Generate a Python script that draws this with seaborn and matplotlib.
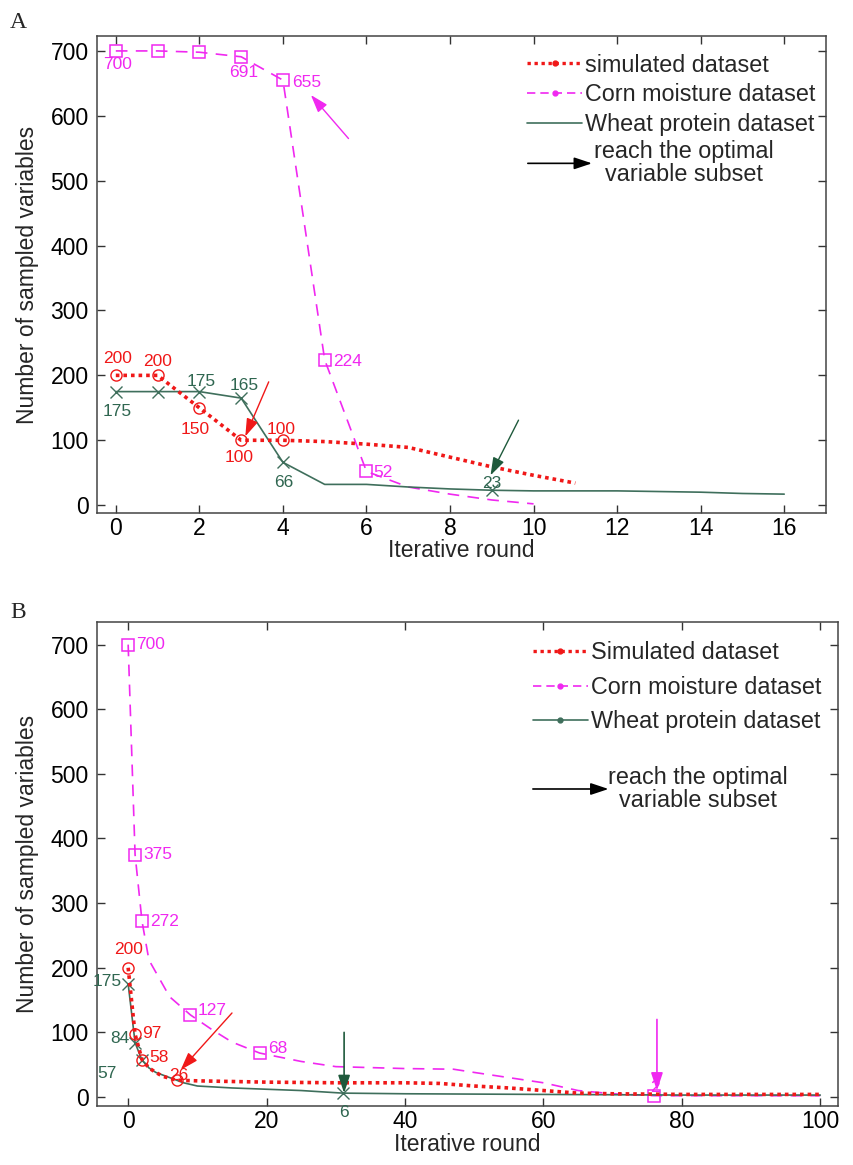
"""Number of sampled variables per iterative round, two panels (A, B)."""

import matplotlib.pyplot as plt
import seaborn as sns
from matplotlib.lines import Line2D

# ---- panel A data ----
a_sim_round = list(range(12))
a_sim = [200, 200, 150, 100, 100, 98, 94, 89, 74, 59, 46, 34]
a_corn_round = list(range(11))
a_corn = [700, 700, 698, 691, 655, 224, 52, 28, 17, 8, 2]
a_wheat_round = list(range(17))
a_wheat = [175, 175, 175, 165, 66, 32, 32, 28, 25, 23, 22, 22, 22, 21, 20, 18, 17]
a_sim_marked = [0, 1, 2, 3, 4]
a_corn_marked = [0, 1, 2, 3, 4, 5, 6]
a_wheat_marked = [0, 1, 2, 3, 4, 9]

# ---- panel B data ----
b_sim_round = [0, 1, 2, 3, 4, 5, 7, 10, 15, 20, 30, 40, 45, 50, 55, 60, 65, 70, 80, 90, 100]
b_sim = [200, 97, 58, 45, 38, 32, 26, 25, 24, 23, 22, 22, 21, 17, 14, 10, 6, 5, 4, 4, 4]
b_corn_round = [0, 1, 2, 3, 6, 9, 12, 15, 19, 25, 30, 40, 47, 50, 55, 60, 65, 70, 76, 85, 100]
b_corn = [700, 375, 272, 212, 155, 127, 105, 85, 68, 55, 47, 44, 43, 38, 30, 22, 10, 5, 2, 2, 2]
b_wheat_round = [0, 1, 2, 3, 4, 6, 8, 10, 15, 20, 25, 31, 40, 60, 80, 100]
b_wheat = [175, 84, 57, 45, 38, 30, 22, 17, 14, 12, 10, 6, 5, 4, 3, 3]
b_sim_marked = [0, 1, 2, 6]
b_corn_marked = [0, 1, 2, 5, 8, 18]
b_wheat_marked = [0, 1, 2, 11]

legend_a = ['simulated dataset', 'Corn moisture dataset', 'Wheat protein dataset']
legend_b = ['Simulated dataset', 'Corn moisture dataset', 'Wheat protein dataset']
arrow_text = 'reach the optimal\nvariable subset'

RED = '#f01818'
MAGENTA = '#f028f0'
GREEN = '#3f6f5c'
GREEN_TXT = '#2f6650'
GREEN_ARROW = '#1f5a3c'
LEG_FS = 16.8

sns.set_theme(style='ticks')
plt.rcParams['font.family'] = ['Liberation Sans', 'DejaVu Sans']

fig = plt.figure(figsize=(8.54, 11.65), dpi=100)
ax_a = fig.add_axes([0.1136, 0.5597, 0.8536, 0.4094])
ax_b = fig.add_axes([0.1136, 0.0506, 0.868, 0.4155])


def draw_lines(ax, sim, corn, wheat):
    (sr, sv, sm), (cr, cv, cm), (wr, wv, wm) = sim, corn, wheat
    sns.lineplot(x=cr, y=cv, ax=ax, color=MAGENTA, linestyle=(0, (7, 5)),
                 linewidth=1.2, marker='s', markevery=cm, ms=8.5,
                 markerfacecolor='none', markeredgecolor=MAGENTA,
                 markeredgewidth=1.1, errorbar=None, sort=False)
    sns.lineplot(x=wr, y=wv, ax=ax, color=GREEN, linewidth=1.2,
                 marker='x', markevery=wm, ms=9,
                 markeredgecolor=GREEN, markeredgewidth=1.0,
                 errorbar=None, sort=False)
    sns.lineplot(x=sr, y=sv, ax=ax, color=RED, linestyle=(0, (1, 1.1)),
                 linewidth=2.6, marker='o', markevery=sm, ms=8,
                 markerfacecolor='none', markeredgecolor=RED,
                 markeredgewidth=1.0, errorbar=None, sort=False)


def label(ax, x, y, text, color, dx, dy, ha='center'):
    ax.annotate(text, (x, y), xytext=(dx, dy), textcoords='offset pixels',
                ha=ha, va='center', color=color, fontsize=12.5,
                annotation_clip=False)


def arrow(ax, tail, head, color, lw=1.0):
    ax.annotate('', xy=head, xytext=tail,
                arrowprops=dict(arrowstyle='-|>,head_length=0.9,head_width=0.3',
                                color=color, lw=lw, shrinkA=0, shrinkB=0))


def style_axes(ax, xlim, xticks, ylim, xpad):
    ax.set_xlim(*xlim)
    ax.set_ylim(*ylim)
    ax.set_xticks(xticks)
    ax.set_yticks(range(0, 701, 100))
    ax.tick_params(direction='in', top=True, right=True, length=6,
                   width=1, labelsize=16.5, colors='#333333', labelcolor='black',
                   pad=6)
    ax.tick_params(axis='x', pad=3)
    for s in ax.spines.values():
        s.set_visible(True)
        s.set_color('#444444')
        s.set_linewidth(1.1)
    ax.set_xlabel('Iterative round', fontsize=16.5, labelpad=xpad)
    ax.set_ylabel('Number of sampled variables', fontsize=16.5, labelpad=8)


def legend(ax, labels, anchor, arrow_y, arrow_x, text_x, spacing, wheat_dot):
    handles = [
        Line2D([], [], color=RED, linestyle=(0, (1, 1.1)), lw=2.4,
               marker='.', ms=7),
        Line2D([], [], color=MAGENTA, linestyle=(0, (5, 3)), lw=1.2,
               marker='.', ms=7),
        Line2D([], [], color=GREEN, lw=1.2, marker='.' if wheat_dot else None,
               ms=7),
    ]
    ax.legend(handles, labels, loc='upper left', bbox_to_anchor=anchor,
              frameon=False, fontsize=LEG_FS, handlelength=2.35,
              handletextpad=0.12, labelspacing=spacing, borderaxespad=0,
              borderpad=0)
    ax.annotate('', xy=(arrow_x[1], arrow_y), xytext=(arrow_x[0], arrow_y),
                xycoords='axes fraction',
                arrowprops=dict(arrowstyle='-|>,head_length=0.9,head_width=0.3',
                                color='black', lw=1.2, shrinkA=0, shrinkB=0))
    ax.text(text_x, arrow_y, arrow_text, transform=ax.transAxes, ha='center',
            va='center', fontsize=LEG_FS, linespacing=1.0)


# ---- panel A ----
draw_lines(ax_a,
           (a_sim_round, a_sim, a_sim_marked),
           (a_corn_round, a_corn, a_corn_marked),
           (a_wheat_round, a_wheat, a_wheat_marked))
style_axes(ax_a, (-0.45, 17.0), range(0, 17, 2), (-12, 723), -1)

label(ax_a, 0, a_sim[0], '200', RED, 2, 17)
label(ax_a, 1, a_sim[1], '200', RED, 0, 14)
label(ax_a, 2, a_sim[2], '150', RED, -4, -22)
label(ax_a, 3, a_sim[3], '100', RED, -2, -17)
label(ax_a, 4, a_sim[4], '100', RED, -2, 11)
label(ax_a, 0, a_corn[0], '700', MAGENTA, 2, -14)
label(ax_a, 3, a_corn[3], '691', MAGENTA, 3, -16)
label(ax_a, 4, a_corn[4], '655', MAGENTA, 9, -2, ha='left')
label(ax_a, 5, a_corn[5], '224', MAGENTA, 8, -2, ha='left')
label(ax_a, 6, a_corn[6], '52', MAGENTA, 7, -1, ha='left')
label(ax_a, 0, a_wheat[0], '175', GREEN_TXT, 1, -20)
label(ax_a, 2, a_wheat[2], '175', GREEN_TXT, 2, 10)
label(ax_a, 3, a_wheat[3], '165', GREEN_TXT, 3, 13)
label(ax_a, 4, a_wheat[4], '66', GREEN_TXT, 1, -20)
label(ax_a, 9, a_wheat[9], '23', GREEN_TXT, 0, 7)

arrow(ax_a, (3.66, 190), (3.1, 106), RED)
arrow(ax_a, (5.57, 565), (4.67, 632), MAGENTA)
arrow(ax_a, (9.64, 131), (8.97, 46), GREEN_ARROW)

legend(ax_a, legend_a, (0.59, 0.963), 0.733, (0.591, 0.679), 0.805, 0.28, False)

# ---- panel B ----
draw_lines(ax_b,
           (b_sim_round, b_sim, b_sim_marked),
           (b_corn_round, b_corn, b_corn_marked),
           (b_wheat_round, b_wheat, b_wheat_marked))
style_axes(ax_b, (-4.5, 102.6), range(0, 101, 20), (-14, 735), 0)

label(ax_b, 0, b_corn[0], '700', MAGENTA, 8, 0, ha='left')
label(ax_b, 1, b_corn[1], '375', MAGENTA, 8, 0, ha='left')
label(ax_b, 2, b_corn[2], '272', MAGENTA, 8, 0, ha='left')
label(ax_b, 9, b_corn[5], '127', MAGENTA, 7, 4, ha='left')
label(ax_b, 19, b_corn[8], '68', MAGENTA, 8, 5, ha='left')
label(ax_b, 76, b_corn[18], '2', MAGENTA, 1, 8)
label(ax_b, 0, b_sim[0], '200', RED, 0, 18)
label(ax_b, 1, b_sim[1], '97', RED, 7, 1, ha='left')
label(ax_b, 2, b_sim[2], '58', RED, 7, 2, ha='left')
label(ax_b, 7, b_sim[6], '26', RED, 2, 5)
label(ax_b, 0, b_wheat[0], '175', GREEN_TXT, -6, 2, ha='right')
label(ax_b, 1, b_wheat[1], '84', GREEN_TXT, -6, 4, ha='right')
label(ax_b, 2, b_wheat[2], '57', GREEN_TXT, -25, -13, ha='right')
label(ax_b, 31, b_wheat[11], '6', GREEN_TXT, 1, -19)

arrow(ax_b, (15, 130), (7.6, 42), RED)
arrow(ax_b, (31.2, 100), (31.2, 6), GREEN_ARROW, lw=1.2)
arrow(ax_b, (76.4, 120), (76.4, 10), MAGENTA, lw=1.2)

legend(ax_b, legend_b, (0.588, 0.960), 0.655, (0.588, 0.69), 0.81, 0.49, True)

fig.text(10 / 854, 1 - 22 / 1165, 'A', family='Liberation Serif', fontsize=17,
         va='center')
fig.text(10 / 854, 1 - 612 / 1165, 'B', family='Liberation Serif', fontsize=17,
         va='center')

fig.savefig('out.png', dpi=100)
